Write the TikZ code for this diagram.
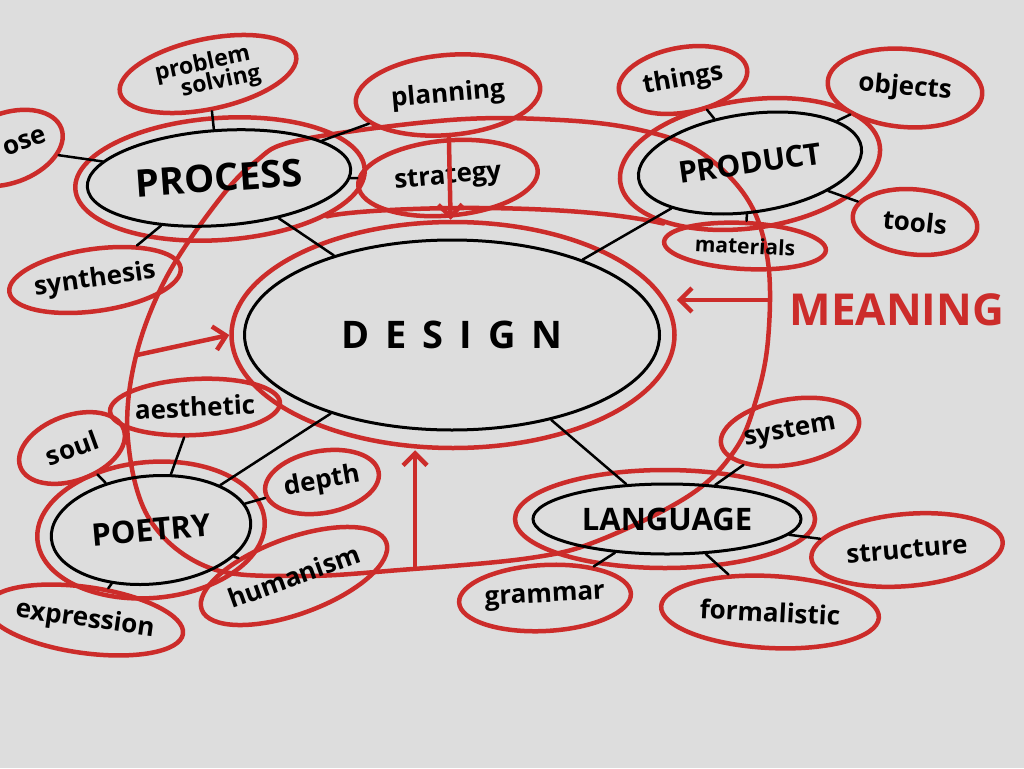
\documentclass[tikz,border=0pt]{standalone}
\usepackage{fontspec}
\setmainfont{Open Sans}
\usetikzlibrary{shapes.geometric,arrows.meta}
\definecolor{sketchred}{RGB}{204,44,42}
\definecolor{paper}{RGB}{221,221,221}

\begin{document}
\begin{tikzpicture}[x=1pt,y=-1pt,
    hub/.style={draw,ellipse,line width=3pt,inner sep=0pt},
    ring/.style={draw=sketchred,ellipse,line width=4.5pt,inner sep=0pt},
    leaf/.style={draw=sketchred,ellipse,line width=4.5pt,inner sep=0pt,font=\fontsize{26}{26}\selectfont\bfseries},
    link/.style={line width=2.5pt,line cap=round},
    redline/.style={sketchred,line width=4.5pt,line cap=round},
    redarrow/.style={redline,-{Straight Barb[length=12pt,width=24pt,line width=4.5pt]}}]
    \useasboundingbox (0,0) rectangle (1024,768);
    \fill[paper] (0,0) rectangle (1024,768);
    \clip (0,0) rectangle (1024,768);

    % red rings round the hubs
    \node[ring,minimum width=443pt,minimum height=226pt] (designring) at (453,335) {};
    \node[ring,minimum width=290pt,minimum height=122pt,rotate=4] (processring) at (220,179) {};
    \node[ring,minimum width=262pt,minimum height=128pt,rotate=8] (productring) at (750,164) {};
    \node[ring,minimum width=228pt,minimum height=136pt,rotate=5] (poetryring) at (151,530) {};
    \node[ring,minimum width=300pt,minimum height=98pt] (languagering) at (665,519) {};

    % big loop through all four
    \draw[redline] plot[smooth cycle,tension=0.6] coordinates {
        (300,140) (450,120) (560,120) (640,130) (700,152) (748,200) (768,262)
        (768,340) (756,400) (735,450) (690,495) (600,540) (530,558) (400,570)
        (300,576) (210,568) (150,520) (128,440) (135,360) (165,280) (215,205) (255,162)};
    \draw[redline] (processring.south east) .. controls (360,208) and (560,200) .. (productring.south west);
    \coordinate (loopS) at (415,566);
    \coordinate (loopE) at (768,300);
    \coordinate (loopW) at (137,355);

    % leaves
    \node[leaf,minimum width=105pt,minimum height=70pt,rotate=20] (ose) at (8,148) {\hspace{36pt}ose};
    \node[leaf,minimum width=180pt,minimum height=70pt,rotate=12,align=left,font=\fontsize{23}{23}\selectfont\bfseries] (problem) at (208,74) {problem\\[-2pt]\hspace{22pt}solving};
    \node[leaf,minimum width=185pt,minimum height=80pt,rotate=5] (planning) at (448,95) {planning};
    \node[leaf,minimum width=180pt,minimum height=75pt,rotate=5] (strategy) at (448,178) {strategy};
    \node[leaf,minimum width=160pt,minimum height=62pt,rotate=8] (synthesis) at (95,280) {synthesis};
    \node[leaf,minimum width=130pt,minimum height=65pt,rotate=10] (things) at (683,80) {things};
    \node[leaf,minimum width=155pt,minimum height=78pt,rotate=-5] (objects) at (905,88) {objects};
    \node[leaf,minimum width=125pt,minimum height=65pt,rotate=-6] (tools) at (915,222) {tools};
    \node[leaf,minimum width=162pt,minimum height=46pt,rotate=-3,font=\fontsize{21}{21}\selectfont\bfseries] (materials) at (745,246) {materials};
    \node[leaf,minimum width=140pt,minimum height=65pt,rotate=10] (system) at (790,432) {system};
    \node[leaf,minimum width=192pt,minimum height=72pt,rotate=5] (structure) at (907,550) {structure};
    \node[leaf,minimum width=218pt,minimum height=72pt,rotate=-3] (formalistic) at (770,612) {formalistic};
    \node[leaf,minimum width=172pt,minimum height=66pt,rotate=3] (grammar) at (545,598) {grammar};
    \node[leaf,minimum width=110pt,minimum height=65pt,rotate=20] (soul) at (72,448) {soul};
    \node[leaf,minimum width=165pt,minimum height=56pt,rotate=3] (aesthetic) at (195,407) {aesthetic};
    \node[leaf,minimum width=115pt,minimum height=62pt,rotate=10] (depth) at (322,482) {depth};
    \node[leaf,minimum width=182pt,minimum height=76pt,rotate=20] (humanism) at (294,576) {humanism};
    \node[leaf,minimum width=185pt,minimum height=66pt,rotate=-8] (expression) at (85,620) {expression};

    \node[text=sketchred,font=\fontsize{44}{46}\selectfont\bfseries,anchor=west] (meaning) at (786,310) {MEANING};

    % hubs
    \node[hub,minimum width=415pt,minimum height=190pt,font=\fontsize{38}{40}\selectfont\bfseries] (design) at (452,335)
        {D\hspace{16pt}E\hspace{16pt}S\hspace{16pt}I\hspace{16pt}G\hspace{16pt}N};
    \node[hub,minimum width=264pt,minimum height=95pt,rotate=4,font=\fontsize{38}{40}\selectfont\bfseries] (process) at (219,178) {PROCESS};
    \node[hub,minimum width=225pt,minimum height=98pt,rotate=8,font=\fontsize{30}{32}\selectfont\bfseries] (product) at (750,163) {PRODUCT};
    \node[hub,minimum width=200pt,minimum height=108pt,rotate=5,font=\fontsize{31}{33}\selectfont\bfseries] (poetry) at (151,530) {POETRY};
    \node[hub,minimum width=268pt,minimum height=70pt,font=\fontsize{31}{33}\selectfont\bfseries] (language) at (667,519) {LANGUAGE};

    % red arrows into design
    \draw[redarrow] (planning) -- (designring);
    \draw[redarrow] (loopS) -- (loopS |- designring.south);
    \draw[redarrow] (loopE) -- (loopE -| designring.east);
    \draw[redarrow] (loopW) -- (designring.west);

    % black links
    \draw[link] (design) -- (process);
    \draw[link] (design) -- (product);
    \draw[link] (design) -- (poetry);
    \draw[link] (design) -- (language);
    \draw[link] (process) -- (ose);
    \draw[link] (process) -- (problem);
    \draw[link] (process) -- (planning);
    \draw[link] (process) -- (strategy);
    \draw[link] (process) -- (synthesis);
    \draw[link] (product) -- (things);
    \draw[link] (product) -- (objects);
    \draw[link] (product) -- (tools);
    \draw[link] (product) -- (materials);
    \draw[link] (poetry) -- (soul);
    \draw[link] (poetry) -- (aesthetic);
    \draw[link] (poetry) -- (depth);
    \draw[link] (poetry) -- (humanism);
    \draw[link] (poetry) -- (expression);
    \draw[link] (language) -- (system);
    \draw[link] (language) -- (grammar);
    \draw[link] (language) -- (formalistic);
    \draw[link] (language) -- (structure);
\end{tikzpicture}
\end{document}
